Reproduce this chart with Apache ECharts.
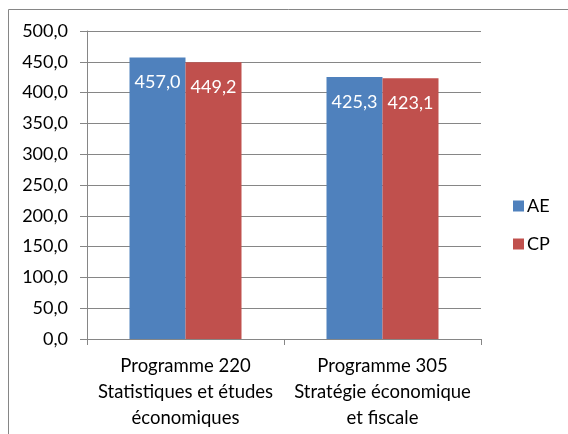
<!DOCTYPE html>
<html><head><meta charset="utf-8">
<script src="https://cdn.jsdelivr.net/npm/echarts@6/dist/echarts.min.js"></script>
<style>html,body{margin:0;padding:0;background:#fff}#c{width:568px;height:434px}</style>
</head><body><div id="c"></div>
<script>
const categories = ["Programme 220\nStatistiques et études\néconomiques", "Programme 305\nStratégie économique\net fiscale"];
const seriesNames = ["AE", "CP"];
const aeValues = [457.0, 425.3];
const cpValues = [449.2, 423.1];
const yMin = 0, yMax = 500, yStep = 50;

const FONT = "Lato, 'Open Sans', sans-serif";
const fmt = v => v.toFixed(1).replace('.', ',');
const chart = echarts.init(document.getElementById('c'), null, {renderer: 'canvas'});
const labelOpt = {show: true, position: 'insideTop', distance: 16, color: '#fff', fontSize: 18, fontFamily: FONT,
  formatter: p => fmt(p.value)};
chart.setOption({
  animation: false,
  graphic: [{type: 'polyline', shape: {points: [[8.5, 434], [8.5, 9.5], [568, 9.5]]},
    style: {stroke: '#868686', lineWidth: 1, fill: null}}],
  grid: {left: 87, right: 87, top: 31, bottom: 95, containLabel: false},
  legend: {orient: 'vertical', left: 508, top: 191, itemWidth: 11, itemHeight: 11, itemGap: 18,
    data: seriesNames, icon: 'rect',
    textStyle: {fontSize: 18, lineHeight: 20, fontFamily: FONT, color: '#000', padding: [0, 0, 0, -2]}},
  xAxis: {type: 'category', data: categories,
    axisLine: {lineStyle: {color: '#868686', width: 1}},
    axisTick: {show: true, length: 6, lineStyle: {color: '#868686'}},
    axisLabel: {fontSize: 18.5, fontFamily: FONT, color: '#000', lineHeight: 26, margin: 14, interval: 0}},
  yAxis: {type: 'value', min: yMin, max: yMax, interval: yStep,
    axisLine: {show: true, lineStyle: {color: '#868686', width: 1}},
    axisTick: {show: true, length: 7, lineStyle: {color: '#868686'}},
    splitLine: {lineStyle: {color: '#868686', width: 1}},
    axisLabel: {fontSize: 18, fontFamily: FONT, color: '#000', margin: 19, formatter: v => fmt(v)}},
  series: [
    {name: seriesNames[0], type: 'bar', data: aeValues, barWidth: 56, barGap: '0%',
      itemStyle: {color: '#4F81BD'}, label: labelOpt},
    {name: seriesNames[1], type: 'bar', data: cpValues, barWidth: 56, barGap: '0%',
      itemStyle: {color: '#C0504D'}, label: labelOpt}
  ]
});
</script></body></html>
